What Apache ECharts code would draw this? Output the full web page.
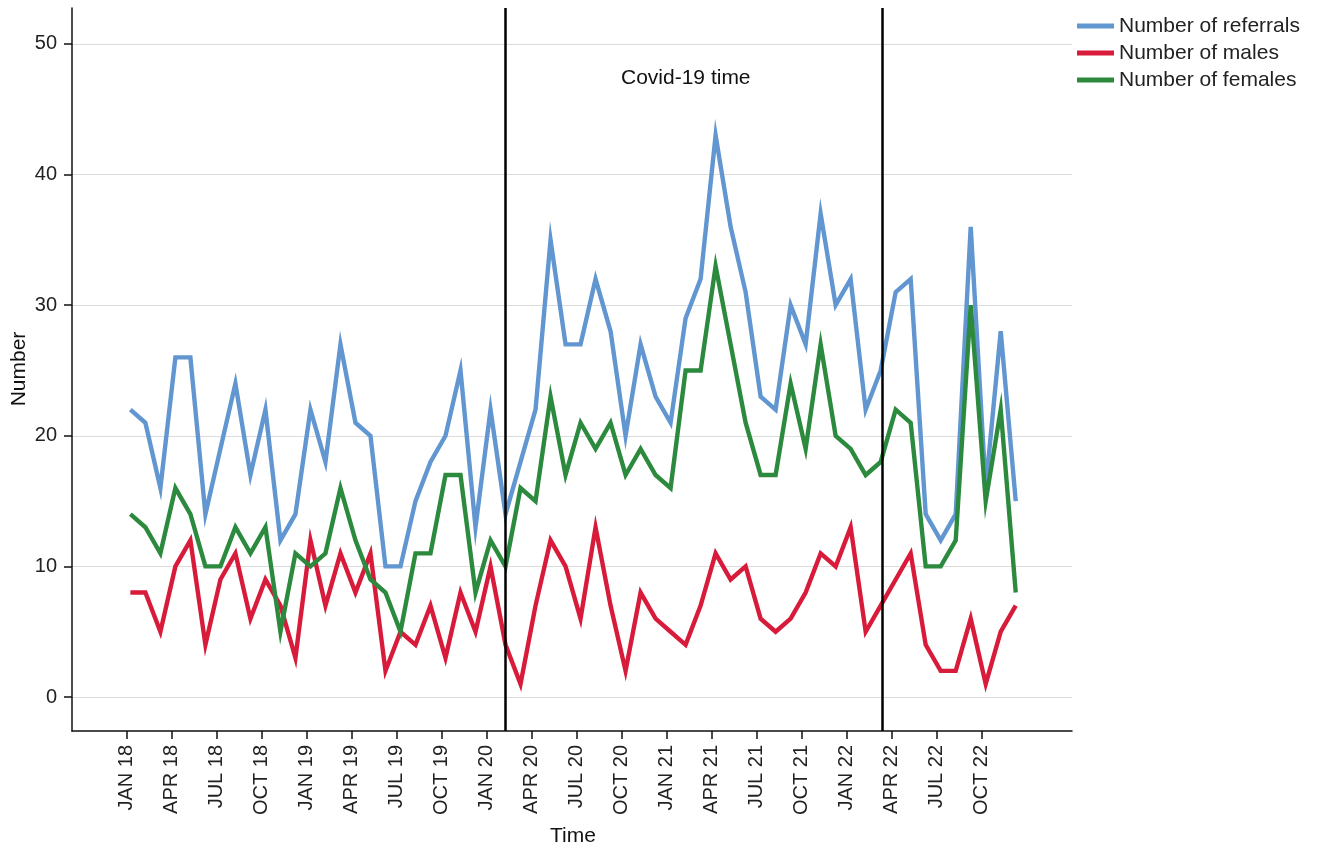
<!DOCTYPE html>
<html><head><meta charset="utf-8">
<script src="https://cdn.jsdelivr.net/npm/echarts@6/dist/echarts.min.js"></script>
<style>html,body{margin:0;padding:0;background:#fff;}#c{width:1317px;height:847px;}</style>
</head><body><div id="c"></div>
<script>
// Monthly values, JAN 2018 (index 0) .. DEC 2022 (index 59)
const referrals = [22,21,16,26,26,14,19,24,17,22,12,14,22,18,27,21,20,10,10,15,18,20,25,13,22,14,
                   18,22,35,27,27,32,28,20,27,23,21,29,32,43,36,31,23,22,30,27,37,30,32,22,25,
                   31,32,14,12,14,36,16,28,15];
const males     = [8,8,5,10,12,4,9,11,6,9,7,3,12,7,11,8,11,2,5,4,7,3,8,5,10,4,
                   1,7,12,10,6,13,7,2,8,6,5,4,7,11,9,10,6,5,6,8,11,10,13,5,7,
                   9,11,4,2,2,6,1,5,7];
const females   = [14,13,11,16,14,10,10,13,11,13,5,11,10,11,16,12,9,8,5,11,11,17,17,8,12,10,
                   16,15,23,17,21,19,21,17,19,17,16,25,25,33,27,21,17,17,24,19,27,20,19,17,18,
                   22,21,10,10,12,30,15,22,8];
const tickLabels = ['JAN 18','APR 18','JUL 18','OCT 18','JAN 19','APR 19','JUL 19','OCT 19',
                    'JAN 20','APR 20','JUL 20','OCT 20','JAN 21','APR 21','JUL 21','OCT 21',
                    'JAN 22','APR 22','JUL 22','OCT 22'];
const yTicks = [0,10,20,30,40,50];
const seriesNames = ['Number of referrals','Number of males','Number of females'];
const covidStart = 24.97, covidEnd = 50.13;   // month index of the two vertical markers

const tickShift = -0.27;
const xTicks = tickLabels.map((_, k) => k * 3 + tickShift);
const FONT = 'Liberation Sans, Arial, Helvetica, sans-serif';
const colors = ['#6196d0', '#d81b3a', '#2c8a3e'];

function toPts(arr){ return arr.map((v, i) => [i, v]); }
function mkSeries(name, arr, color, extra){
  return Object.assign({
    name: name, type: 'line', data: toPts(arr),
    symbol: 'none', showSymbol: false, smooth: false,
    lineStyle: { color: color, width: 4.4, join: 'miter', cap: 'butt' },
    itemStyle: { color: color },
    emphasis: { disabled: true }
  }, extra || {});
}

const chart = echarts.init(document.getElementById('c'), null, { renderer: 'canvas' });
chart.setOption({
  animation: false,
  backgroundColor: '#fff',
  textStyle: { fontFamily: FONT },
  grid: { left: 72, right: 245, top: 8, bottom: 116, containLabel: false },
  legend: {
    data: seriesNames, orient: 'vertical', left: 1077, top: 15, padding: 0,
    icon: 'rect', itemWidth: 37, itemHeight: 5, itemGap: 5,
    textStyle: { fontSize: 21, color: '#222', fontFamily: FONT, lineHeight: 22 },
    selectedMode: false
  },
  xAxis: {
    type: 'value', min: -3.89, max: 62.75,
    axisLine: { show: true, onZero: false, lineStyle: { color: '#111', width: 1.5 } },
    axisTick: { show: true, length: 8, customValues: xTicks, lineStyle: { color: '#111', width: 1.5 } },
    axisLabel: {
      customValues: xTicks, rotate: 90, margin: 14, fontSize: 20, color: '#222', fontFamily: FONT,
      formatter: v => tickLabels[Math.round((v - tickShift) / 3)] || ''
    },
    splitLine: { show: false }
  },
  yAxis: {
    type: 'value', min: -2.6, max: 52.75,
    axisLine: { show: true, onZero: false, lineStyle: { color: '#111', width: 1.5 } },
    axisTick: { show: true, length: 8, customValues: yTicks, lineStyle: { color: '#111', width: 1.5 } },
    axisLabel: { customValues: yTicks, margin: 15, fontSize: 20, color: '#222', fontFamily: FONT },
    splitLine: { show: true, lineStyle: { color: '#dcdcdc', width: 1.2 } }
  },
  graphic: [
    { type: 'text', left: 621, top: 68, style: { text: 'Covid-19 time', fontSize: 21, fill: '#111', fontFamily: FONT } },
    { type: 'text', x: 19, y: 369, rotation: Math.PI / 2,
      style: { text: 'Number', fontSize: 21, fill: '#111', fontFamily: FONT, align: 'center', verticalAlign: 'middle' } },
    { type: 'text', x: 573, y: 836,
      style: { text: 'Time', fontSize: 21, fill: '#111', fontFamily: FONT, align: 'center', verticalAlign: 'middle' } }
  ],
  series: [
    mkSeries(seriesNames[0], referrals, colors[0], {
      markLine: {
        silent: true, symbol: ['none', 'none'], animation: false,
        label: { show: false },
        lineStyle: { color: '#000', width: 2.5, type: 'solid' },
        emphasis: { disabled: true },
        data: [{ xAxis: covidStart }, { xAxis: covidEnd }]
      }
    }),
    mkSeries(seriesNames[1], males, colors[1]),
    mkSeries(seriesNames[2], females, colors[2])
  ]
});
</script>
</body></html>
